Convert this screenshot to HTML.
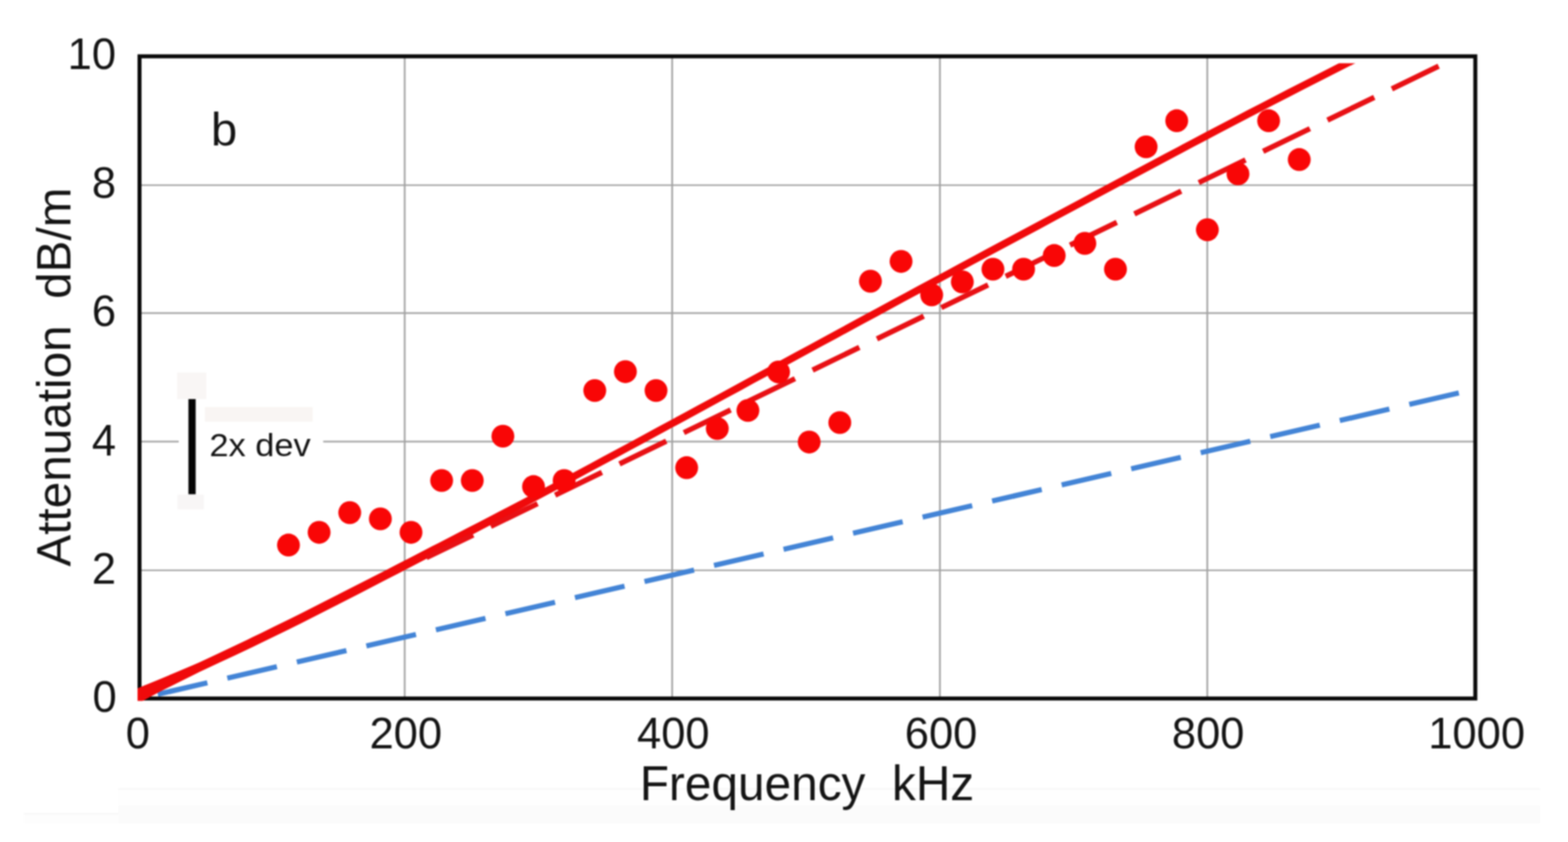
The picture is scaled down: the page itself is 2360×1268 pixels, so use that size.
<!DOCTYPE html>
<html lang="en">
<head>
<meta charset="utf-8">
<title>Attenuation vs Frequency (b)</title>
<style>
html,body{margin:0;padding:0;background:#fff;}
body{width:2360px;height:1268px;overflow:hidden;}
svg{display:block;filter:blur(0.8px);}
text{font-family:"Liberation Sans",sans-serif;fill:#141414;}
.tick{font-size:65.5px;}
</style>
</head>
<body>
<svg width="2360" height="1268" viewBox="0 0 2360 1268">
<defs>
<clipPath id="plotclip"><rect x="207.0" y="95.2" width="2016.5" height="960.3"/></clipPath>
</defs>
<rect x="0" y="0" width="2360" height="1268" fill="#ffffff"/>

<g id="paper-tint">
<rect x="178" y="1188" width="2140" height="26" fill="#fefefe"/>
<rect x="178" y="1213" width="2140" height="27" fill="#fbfbfb"/>
<rect x="178" y="1187" width="2140" height="2.5" fill="#f7f7f7"/>
<rect x="36" y="1224" width="142" height="3" fill="#f8f8f8"/>
<rect x="36" y="1227" width="142" height="13" fill="#fdfdfd"/>
<rect x="266.5" y="561" width="44" height="40" fill="#f9f6f5"/>
<rect x="267" y="745" width="40" height="22" fill="#f8f6f6"/>
<rect x="308.5" y="613" width="162" height="22" fill="#f9f5f3"/>
</g>
<g id="grid" stroke="#a2a2a2" stroke-width="2.3">
<line x1="609.1" y1="84.8" x2="609.1" y2="1051.9" stroke-width="2.6"/>
<line x1="1011.7" y1="84.8" x2="1011.7" y2="1051.9" stroke-width="2.6"/>
<line x1="1414.7" y1="84.8" x2="1414.7" y2="1051.9" stroke-width="2.6"/>
<line x1="1817.1" y1="84.8" x2="1817.1" y2="1051.9" stroke-width="2.6"/>
<line x1="210.0" y1="278.8" x2="2220.5" y2="278.8"/>
<line x1="210.0" y1="471.5" x2="2220.5" y2="471.5"/>
<line x1="210.0" y1="665.0" x2="269" y2="665.0"/>
<line x1="486.5" y1="665.0" x2="2220.5" y2="665.0"/>
<line x1="210.0" y1="858.8" x2="2220.5" y2="858.8"/>
</g>
<rect id="frame" x="210.0" y="84.8" width="2010.5" height="967.1" fill="none" stroke="#0a0a0a" stroke-width="6"/>
<g id="series" fill="none">
<polyline points="237.5,1045.5 2195.7,591.8" stroke="#4384d6" stroke-width="7.8" stroke-dasharray="76.59 30.83"/>
<polygon clip-path="url(#plotclip)" points="207.0,1036.5 207.2,1036.4 213.0,1034.1 227.8,1028.0 240.0,1022.9 248.4,1019.4 260.0,1014.5 269.0,1010.7 289.6,1001.9 300.0,997.5 310.2,992.7 330.9,983.0 351.5,973.2 372.1,963.4 380.0,959.6 392.7,953.4 413.3,943.3 433.9,933.2 450.0,925.3 454.5,923.0 475.1,912.6 495.7,902.1 516.3,891.6 536.9,881.1 557.6,870.5 560.0,869.2 578.2,859.9 598.8,849.3 619.4,838.7 640.0,828.0 650.0,822.8 660.6,817.4 681.2,806.8 701.8,796.1 722.4,785.4 743.0,774.7 750.0,771.1 763.6,764.0 784.2,753.2 804.9,742.5 825.5,731.7 846.1,720.8 850.0,718.8 866.7,709.8 887.3,698.7 907.9,687.6 928.5,676.5 949.1,665.4 969.7,654.3 990.3,643.1 1010.9,631.9 1031.6,620.8 1052.2,609.6 1072.8,598.4 1093.4,587.2 1114.0,576.0 1134.6,564.7 1155.2,553.5 1175.8,542.3 1196.4,531.1 1217.0,519.9 1237.6,508.7 1258.3,497.5 1278.9,486.3 1299.5,475.1 1320.1,464.0 1340.7,452.8 1361.3,441.7 1381.9,430.6 1402.5,419.5 1423.1,408.4 1443.7,397.3 1464.3,386.2 1485.0,375.1 1505.6,364.1 1526.2,353.0 1546.8,342.0 1567.4,331.0 1588.0,319.9 1608.6,308.9 1629.2,297.9 1649.8,286.8 1670.4,275.8 1691.0,264.8 1711.6,253.8 1732.3,242.8 1752.9,231.8 1773.5,220.9 1794.1,209.9 1814.7,199.1 1835.3,188.2 1855.9,177.4 1876.5,166.6 1897.1,155.9 1917.7,145.2 1938.3,134.5 1959.0,123.9 1979.6,113.4 2000.2,102.9 2020.8,92.4 2041.4,82.0 2062.0,71.7 2062.0,84.1 2041.4,94.4 2020.8,104.8 2000.2,115.3 1979.6,125.8 1959.0,136.3 1938.3,146.9 1917.7,157.6 1897.1,168.3 1876.5,179.0 1855.9,189.8 1835.3,200.6 1814.7,211.5 1794.1,222.3 1773.5,233.3 1752.9,244.2 1732.3,255.2 1711.6,266.2 1691.0,277.2 1670.4,288.2 1649.8,299.2 1629.2,310.3 1608.6,321.3 1588.0,332.3 1567.4,343.4 1546.8,354.4 1526.2,365.4 1505.6,376.5 1485.0,387.5 1464.3,398.6 1443.7,409.7 1423.1,420.8 1402.5,431.9 1381.9,443.0 1361.3,454.1 1340.7,465.2 1320.1,476.4 1299.5,487.5 1278.9,498.7 1258.3,509.9 1237.6,521.1 1217.0,532.3 1196.4,543.5 1175.8,554.7 1155.2,565.9 1134.6,577.1 1114.0,588.4 1093.4,599.6 1072.8,610.8 1052.2,622.0 1031.6,633.2 1010.9,644.3 990.3,655.5 969.7,666.7 949.1,677.8 928.5,688.9 907.9,700.0 887.3,711.1 866.7,722.2 850.0,731.2 846.1,733.3 825.5,744.3 804.9,755.3 784.2,766.3 763.6,777.3 750.0,784.5 743.0,788.2 722.4,799.1 701.8,810.0 681.2,820.8 660.6,831.7 650.0,837.2 640.0,842.5 619.4,853.2 598.8,863.9 578.2,874.6 560.0,884.0 557.6,885.3 536.9,895.9 516.3,906.5 495.7,917.0 475.1,927.5 454.5,938.0 450.0,940.3 433.9,948.2 413.3,958.2 392.7,968.3 380.0,974.4 372.1,978.2 351.5,987.9 330.9,997.5 310.2,1007.2 300.0,1011.9 289.6,1017.2 269.0,1027.5 260.0,1032.1 248.4,1037.8 240.0,1042.0 227.8,1048.6 213.0,1056.6 207.2,1059.8 207.0,1059.9" fill="#f00a0b" stroke="none"/>
<polyline points="2165.3,99.6 641.7,839.8" stroke="#e81014" stroke-width="8.0" stroke-dasharray="78.27 29.43"/>
</g>
<g id="points" fill="#f90606">
<circle cx="434.2" cy="820.8" r="17.2"/>
<circle cx="480.3" cy="801.7" r="17.2"/>
<circle cx="526.4" cy="772.0" r="17.2"/>
<circle cx="572.5" cy="781.4" r="17.2"/>
<circle cx="618.6" cy="801.7" r="17.2"/>
<circle cx="664.7" cy="723.6" r="17.2"/>
<circle cx="710.8" cy="723.6" r="17.2"/>
<circle cx="756.9" cy="656.9" r="17.2"/>
<circle cx="803.0" cy="732.8" r="17.2"/>
<circle cx="849.1" cy="723.7" r="17.2"/>
<circle cx="895.2" cy="588.1" r="17.2"/>
<circle cx="941.3" cy="559.7" r="17.2"/>
<circle cx="987.4" cy="588.1" r="17.2"/>
<circle cx="1033.5" cy="704.3" r="17.2"/>
<circle cx="1079.6" cy="645.3" r="17.2"/>
<circle cx="1125.7" cy="618.1" r="17.2"/>
<circle cx="1171.8" cy="560.2" r="17.2"/>
<circle cx="1217.9" cy="665.7" r="17.2"/>
<circle cx="1264.0" cy="636.4" r="17.2"/>
<circle cx="1310.1" cy="423.5" r="17.2"/>
<circle cx="1356.2" cy="393.7" r="17.2"/>
<circle cx="1402.3" cy="444.1" r="17.2"/>
<circle cx="1448.4" cy="424.5" r="17.2"/>
<circle cx="1494.5" cy="405.4" r="17.2"/>
<circle cx="1540.6" cy="405.4" r="17.2"/>
<circle cx="1586.7" cy="384.8" r="17.2"/>
<circle cx="1632.8" cy="366.5" r="17.2"/>
<circle cx="1678.9" cy="405.4" r="17.2"/>
<circle cx="1725.0" cy="221.1" r="17.2"/>
<circle cx="1771.1" cy="181.8" r="17.2"/>
<circle cx="1817.2" cy="346.0" r="17.2"/>
<circle cx="1863.3" cy="261.9" r="17.2"/>
<circle cx="1909.4" cy="181.8" r="17.2"/>
<circle cx="1955.5" cy="240.3" r="17.2"/>
</g>
<rect id="devbar" x="283.6" y="601" width="10.9" height="143.3" fill="#050505"/>
<g id="yticks" class="tick" text-anchor="end">
<text transform="translate(174.6,104.0) scale(1,1.025)">10</text>
<text transform="translate(174.6,297.9) scale(1,1.025)">8</text>
<text transform="translate(174.6,491.3) scale(1,1.025)">6</text>
<text transform="translate(174.6,685.5) scale(1,1.025)">4</text>
<text transform="translate(174.6,879.3) scale(1,1.025)">2</text>
<text transform="translate(175.6,1071.5) scale(1,1.025)">0</text>
</g>
<g id="xticks" class="tick" text-anchor="middle">
<text transform="translate(207.5,1127.3) scale(1,1.025)">0</text>
<text transform="translate(610.8,1127.3) scale(1,1.025)">200</text>
<text transform="translate(1013.4,1127.3) scale(1,1.025)">400</text>
<text transform="translate(1416.4,1127.3) scale(1,1.025)">600</text>
<text transform="translate(1818.4,1127.3) scale(1,1.025)">800</text>
<text transform="translate(2222.5,1127.3) scale(1,1.025)">1000</text>
</g>
<text transform="translate(1214.6,1205.0) scale(1,1.04)" text-anchor="middle" font-size="71.9" style="white-space:pre">Frequency  kHz</text>
<text transform="translate(106.2,567.9) rotate(-90)" text-anchor="middle" font-size="71.8" style="white-space:pre">Attenuation  dB/m</text>
<text x="317.5" y="219.3" font-size="71">b</text>
<text transform="translate(315.3,686.6) scale(1,0.93)" font-size="51.7" fill="#1c1c1c">2x dev</text>
</svg>
</body>
</html>
